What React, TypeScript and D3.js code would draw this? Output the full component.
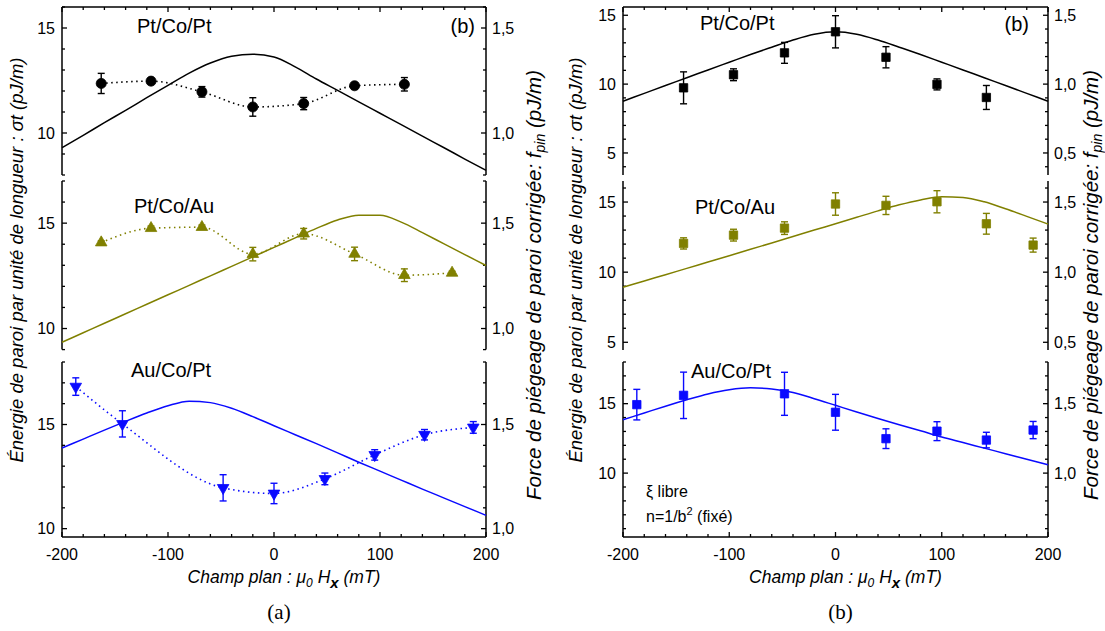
import React from "react";
import * as d3 from "d3";

// ---------- shared ----------
const fitField = [-200, -180, -160, -140, -120, -100, -80, -60, -40, -20, 0, 20, 40, 60, 80, 100, 120, 140, 160, 180, 200];
const fieldTicks = [-200, -180, -160, -140, -120, -100, -80, -60, -40, -20, 0, 20, 40, 60, 80, 100, 120, 140, 160, 180, 200];
const fieldLabels = [-200, -100, 0, 100, 200];

// ---------- (a) ----------
const fieldA_PtCoPt = [-163, -116, -68, -20, 28, 76, 123];
const sigmaA_PtCoPt = [12.36, 12.47, 11.96, 11.24, 11.4, 12.25, 12.32];
const errA_PtCoPt = [0.48, 0.1, 0.25, 0.44, 0.29, 0.08, 0.32];
const fitA_PtCoPt = [9.3, 9.89, 10.49, 11.08, 11.68, 12.27, 12.85, 13.33, 13.65, 13.75, 13.62, 13.15, 12.57, 12.03, 11.48, 10.94, 10.4, 9.85, 9.31, 8.76, 8.22];

const fieldA_PtCoAu = [-163, -116, -68, -20, 28, 76, 123, 168];
const sigmaA_PtCoAu = [14.08, 14.76, 14.81, 13.53, 14.5, 13.54, 12.53, 12.64];
const errA_PtCoAu = [0.08, 0.1, 0.1, 0.32, 0.25, 0.32, 0.3, 0.08];
const fitA_PtCoAu = [9.35, 9.8, 10.25, 10.7, 11.15, 11.6, 12.05, 12.5, 12.95, 13.4, 13.85, 14.3, 14.75, 15.15, 15.38, 15.37, 15.05, 14.55, 14.03, 13.51, 12.99];

const fieldA_AuCoPt = [-187, -143, -48, 0, 48, 95, 142, 188];
const sigmaA_AuCoPt = [16.82, 15.03, 11.96, 11.69, 12.39, 13.54, 14.51, 14.86];
const errA_AuCoPt = [0.42, 0.63, 0.63, 0.49, 0.28, 0.25, 0.25, 0.28];
const fitA_AuCoPt = [13.87, 14.3, 14.73, 15.15, 15.55, 15.9, 16.12, 16.05, 15.78, 15.38, 14.94, 14.51, 14.08, 13.64, 13.19, 12.76, 12.33, 11.9, 11.48, 11.06, 10.64];

// ---------- (b) ----------
const fieldB_PtCoPt = [-143, -96, -48, 0, 47.5, 95.5, 142];
const sigmaB_PtCoPt = [9.73, 10.68, 12.27, 13.8, 11.95, 9.98, 9.03];
const errB_PtCoPt = [1.16, 0.43, 0.76, 1.17, 0.77, 0.4, 0.87];
const fitB_PtCoPt = [8.76, 9.33, 9.9, 10.46, 11.03, 11.59, 12.15, 12.68, 13.2, 13.62, 13.8, 13.62, 13.2, 12.68, 12.15, 11.59, 11.03, 10.46, 9.9, 9.33, 8.76];

const fieldB_PtCoAu = [-143, -96, -48, 0, 47.5, 95.5, 142, 186];
const sigmaB_PtCoAu = [12.05, 12.64, 13.14, 14.86, 14.76, 15.02, 13.45, 11.93];
const errB_PtCoAu = [0.4, 0.42, 0.45, 0.8, 0.65, 0.79, 0.74, 0.5];
const fitB_PtCoAu = [8.92, 9.37, 9.82, 10.27, 10.72, 11.17, 11.63, 12.08, 12.54, 13.0, 13.45, 13.91, 14.37, 14.8, 15.15, 15.38, 15.33, 15.02, 14.52, 13.98, 13.43];

const fieldB_AuCoPt = [-187, -143, -48, 0, 47.5, 95.5, 142, 186];
const sigmaB_AuCoPt = [14.93, 15.6, 15.71, 14.38, 12.48, 13.02, 12.38, 13.1];
const errB_AuCoPt = [1.1, 1.67, 1.55, 1.29, 0.71, 0.68, 0.56, 0.62];
const fitB_AuCoPt = [13.84, 14.33, 14.82, 15.28, 15.7, 16.0, 16.14, 16.05, 15.8, 15.36, 14.88, 14.4, 13.93, 13.48, 13.05, 12.6, 12.2, 11.8, 11.4, 11.0, 10.6];

const labels = ["Pt/Co/Pt", "Pt/Co/Au", "Au/Co/Pt"];

const BLACK = "#000000";
const OLIVE = "#808000";
const BLUE = "#0a0aff";
const SANS = "'Liberation Sans', Arial, Helvetica, sans-serif";

type Marker = "circle" | "triUp" | "triDown" | "square";

interface PanelSpec {
  domain: [number, number];
  top: number;
  bottom: number;
  x: number[];
  y: number[];
  err: number[];
  fit: number[];
  color: string;
  marker: Marker;
  dotted: boolean;
  label: string;
  labelX: number;
  labelY: number;
}

interface FigSpec {
  x0: number;
  x1: number;
  panels: PanelSpec[];
  leftTitleX: number;
  rightTitleX: number;
  leftTitleY: number;
  rightTitleY: number;
  caption: string;
  bLabelX: number;
  bLabelY: number;
}

function markerPath(m: Marker): { d: string; rot: number } {
  if (m === "circle") return { d: d3.symbol().type(d3.symbolCircle).size(80)() as string, rot: 0 };
  if (m === "square") return { d: d3.symbol().type(d3.symbolSquare).size(70)() as string, rot: 0 };
  const d = d3.symbol().type(d3.symbolTriangle).size(58)() as string;
  return { d, rot: m === "triDown" ? 180 : 0 };
}

function fmtRight(v: number) {
  return (v / 10).toFixed(1).replace(".", ",");
}

function Panel({ p, xs, isTop, isBottom, x0, x1 }: { p: PanelSpec; xs: d3.ScaleLinear<number, number>; isTop: boolean; isBottom: boolean; x0: number; x1: number }) {
  const ys = d3.scaleLinear().domain(p.domain).range([p.bottom, p.top]);
  const minor = d3.range(Math.ceil(p.domain[0]), Math.floor(p.domain[1]) + 1);
  const line = d3
    .line<number>()
    .x((_, i) => xs(fitField[i]))
    .y((v) => ys(v))
    .curve(d3.curveMonotoneX);
  const dots = d3
    .line<number>()
    .x((_, i) => xs(p.x[i]))
    .y((v) => ys(v))
    .curve(d3.curveMonotoneX);
  const mk = markerPath(p.marker);
  return (
    <g>
      <line x1={x0} x2={x0} y1={p.top} y2={p.bottom} stroke="#000" strokeWidth={1.5} />
      <line x1={x1} x2={x1} y1={p.top} y2={p.bottom} stroke="#000" strokeWidth={1.5} />
      {minor.map((v) => {
        const major = v % 5 === 0;
        const L = major ? 5 : 3;
        const y = ys(v);
        return (
          <g key={v}>
            <line x1={x0} x2={x0 + L} y1={y} y2={y} stroke="#000" strokeWidth={1.3} />
            <line x1={x1} x2={x1 - L} y1={y} y2={y} stroke="#000" strokeWidth={1.3} />
            {major && (
              <>
                <text x={x0 - 7} y={y} dy="0.36em" textAnchor="end" fontFamily={SANS} fontSize={16}>
                  {v}
                </text>
                <text x={x1 + 6} y={y} dy="0.36em" textAnchor="start" fontFamily={SANS} fontSize={16}>
                  {fmtRight(v)}
                </text>
              </>
            )}
          </g>
        );
      })}
      {isTop && (
        <g>
          <line x1={x0} x2={x1} y1={p.top} y2={p.top} stroke="#000" strokeWidth={1.5} />
          {fieldTicks.map((f) => (
            <line key={f} x1={xs(f)} x2={xs(f)} y1={p.top} y2={p.top + (f % 100 === 0 ? 5 : 3)} stroke="#000" strokeWidth={1.3} />
          ))}
        </g>
      )}
      {isBottom && (
        <g>
          <line x1={x0} x2={x1} y1={p.bottom} y2={p.bottom} stroke="#000" strokeWidth={1.5} />
          {fieldTicks.map((f) => (
            <line key={f} x1={xs(f)} x2={xs(f)} y1={p.bottom} y2={p.bottom - (f % 100 === 0 ? 5 : 3)} stroke="#000" strokeWidth={1.3} />
          ))}
          {fieldLabels.map((f) => (
            <text key={f} x={xs(f)} y={p.bottom + 23} textAnchor="middle" fontFamily={SANS} fontSize={16}>
              {f}
            </text>
          ))}
        </g>
      )}
      <path d={line(p.fit) as string} fill="none" stroke={p.color} strokeWidth={1.5} />
      {p.dotted && <path d={dots(p.y) as string} fill="none" stroke={p.color} strokeWidth={1.6} strokeDasharray="1.5 3.5" />}
      {p.y.map((v, i) => {
        const cx = xs(p.x[i]);
        const ya = ys(v - p.err[i]);
        const yb = ys(v + p.err[i]);
        return (
          <g key={"e" + i} stroke={p.color} strokeWidth={1.4}>
            <line x1={cx} x2={cx} y1={ya} y2={yb} />
            <line x1={cx - 3.5} x2={cx + 3.5} y1={ya} y2={ya} />
            <line x1={cx - 3.5} x2={cx + 3.5} y1={yb} y2={yb} />
          </g>
        );
      })}
      {p.y.map((v, i) => (
        <path key={"m" + i} d={mk.d} transform={`translate(${xs(p.x[i])},${ys(v)}) rotate(${mk.rot})`} fill={p.color} stroke={p.color} strokeWidth={0.8} />
      ))}
      <text x={p.labelX} y={p.labelY} fontFamily={SANS} fontSize={20}>
        {p.label}
      </text>
    </g>
  );
}

function Figure({ f }: { f: FigSpec }) {
  const xs = d3.scaleLinear().domain([-200, 200]).range([f.x0, f.x1]);
  const n = f.panels.length;
  const bottomY = f.panels[n - 1].bottom;
  const cx = (f.x0 + f.x1) / 2;
  return (
    <g>
      {f.panels.map((p, i) => (
        <Panel key={i} p={p} xs={xs} isTop={i === 0} isBottom={i === n - 1} x0={f.x0} x1={f.x1} />
      ))}
      <text x={f.x1 - f.bLabelX} y={f.bLabelY} textAnchor="end" fontFamily={SANS} fontSize={20}>
        (b)
      </text>
      <text x={cx + 10} y={bottomY + 46} textAnchor="middle" fontFamily={SANS} fontSize={17.5} fontStyle="italic">
        <tspan>Champ plan : μ</tspan>
        <tspan dy={4} fontSize={12}>0</tspan>
        <tspan dy={-4}> H</tspan>
        <tspan dy={5} fontSize={15} fontWeight="bold">x</tspan>
        <tspan dy={-5}> (mT)</tspan>
      </text>
      <text x={cx + 5} y={bottomY + 82} textAnchor="middle" fontFamily="'Liberation Serif', 'DejaVu Serif', serif" fontSize={21}>
        {f.caption}
      </text>
      <text transform={`translate(${f.leftTitleX},${f.leftTitleY}) rotate(-90)`} textAnchor="middle" fontFamily={SANS} fontSize={18.5} fontStyle="italic">
        Énergie de paroi par unité de longueur : σt (pJ/m)
      </text>
      <text transform={`translate(${f.rightTitleX},${f.rightTitleY}) rotate(-90)`} textAnchor="middle" fontFamily={SANS} fontSize={20.5} fontStyle="italic">
        <tspan>Force de piégeage de paroi corrigée: f</tspan>
        <tspan dy={4} fontSize={14}>pin</tspan>
        <tspan dy={-4}> (pJ/m)</tspan>
      </text>
    </g>
  );
}

const figA: FigSpec = {
  x0: 62,
  x1: 486,
  leftTitleX: 23,
  rightTitleX: 541,
  leftTitleY: 260,
  rightTitleY: 285,
  caption: "(a)",
  bLabelX: 11,
  bLabelY: 33,
  panels: [
    { domain: [8, 16], top: 7, bottom: 175, x: fieldA_PtCoPt, y: sigmaA_PtCoPt, err: errA_PtCoPt, fit: fitA_PtCoPt, color: BLACK, marker: "circle", dotted: true, label: labels[0], labelX: 137, labelY: 33 },
    { domain: [9, 17], top: 181, bottom: 349.6, x: fieldA_PtCoAu, y: sigmaA_PtCoAu, err: errA_PtCoAu, fit: fitA_PtCoAu, color: OLIVE, marker: "triUp", dotted: true, label: labels[1], labelX: 134, labelY: 213 },
    { domain: [9.6, 18], top: 362, bottom: 537, x: fieldA_AuCoPt, y: sigmaA_AuCoPt, err: errA_AuCoPt, fit: fitA_AuCoPt, color: BLUE, marker: "triDown", dotted: true, label: labels[2], labelX: 131, labelY: 377 },
  ],
};

const figB: FigSpec = {
  x0: 623,
  x1: 1048,
  leftTitleX: 582,
  rightTitleX: 1098,
  leftTitleY: 260,
  rightTitleY: 285,
  caption: "(b)",
  bLabelX: 19,
  bLabelY: 31,
  panels: [
    { domain: [3.4, 15.6], top: 7, bottom: 175, x: fieldB_PtCoPt, y: sigmaB_PtCoPt, err: errB_PtCoPt, fit: fitB_PtCoPt, color: BLACK, marker: "square", dotted: false, label: labels[0], labelX: 700, labelY: 30 },
    { domain: [4.45, 16.5], top: 181, bottom: 350, x: fieldB_PtCoAu, y: sigmaB_PtCoAu, err: errB_PtCoAu, fit: fitB_PtCoAu, color: OLIVE, marker: "square", dotted: false, label: labels[1], labelX: 695, labelY: 214 },
    { domain: [5.4, 18], top: 362, bottom: 537, x: fieldB_AuCoPt, y: sigmaB_AuCoPt, err: errB_AuCoPt, fit: fitB_AuCoPt, color: BLUE, marker: "square", dotted: false, label: labels[2], labelX: 691, labelY: 378 },
  ],
};

export default function App() {
  return (
    <svg width={1105} height={631} viewBox="0 0 1105 631" style={{ position: "absolute", left: 0, top: 0, background: "#fff" }}>
      <rect x={0} y={0} width={1105} height={631} fill="#fff" />
      <Figure f={figA} />
      <Figure f={figB} />
      <text x={646} y={497} fontFamily={SANS} fontSize={16}>
        ξ libre
      </text>
      <text x={646} y={522} fontFamily={SANS} fontSize={16}>
        <tspan>n=1/b</tspan>
        <tspan dy={-7} fontSize={11}>2</tspan>
        <tspan dy={7}> (fixé)</tspan>
      </text>
    </svg>
  );
}
